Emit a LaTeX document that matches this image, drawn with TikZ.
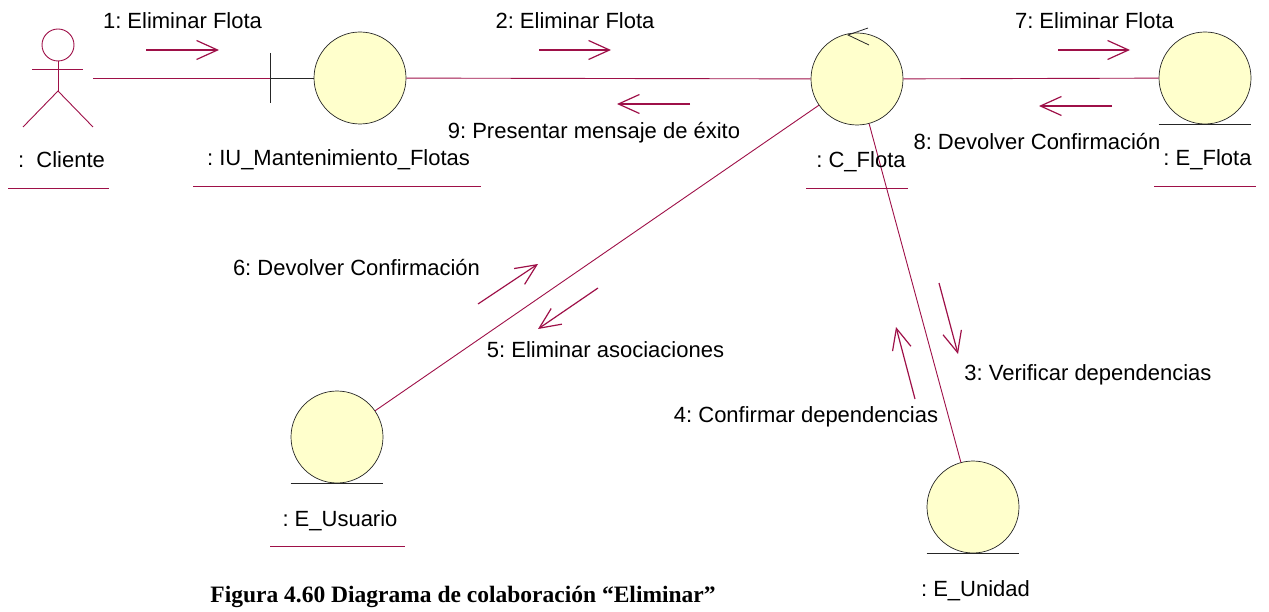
\documentclass[tikz,border=0pt]{standalone}
\usepackage{fontspec}
\setmainfont{Liberation Sans}
\newfontfamily\capfont{Liberation Serif}
\usetikzlibrary{arrows.meta,calc}
\definecolor{rose}{RGB}{158,16,72}
\definecolor{objfill}{RGB}{255,255,204}
\frenchspacing
\begin{document}
\begin{tikzpicture}[x=1pt,y=-1pt,
  obj/.style={circle, draw=black!85, fill=objfill, line width=0.7pt, minimum size=92pt, inner sep=0pt},
  assoc/.style={draw=rose, line width=0.9pt},
  msg/.style={draw=rose, line width=1.2pt, -{Straight Barb[length=21pt,width=19pt]}},
  lbl/.style={font=\fontsize{22}{26}\selectfont, anchor=base, inner sep=0pt},
  uline/.style={draw=rose, line width=1pt},
  eline/.style={draw=black!85, line width=0.8pt},
  actorline/.style={draw=rose, line width=0.9pt}
]
\useasboundingbox (0,0) rectangle (1269,612);

% actor
\node[minimum width=70pt, minimum height=98pt, inner sep=0pt] (cli) at (58,78) {};
\draw[actorline] (58,45) circle[radius=16];
\draw[actorline] (32,69) -- (83,69);
\draw[actorline] (58,61) -- (58,91);
\draw[actorline] (23,127) -- (58,91) -- (93,127);

% objects
\node[obj] (iu) at (360,78) {};
\node[obj] (cf) at (857,79) {};
\node[obj] (ef) at (1205,78) {};
\node[obj] (eus) at (337,437) {};
\node[obj] (eun) at (973,507) {};

% boundary marker
\coordinate (bnd) at (270,78);
\draw[eline] (270,53) -- (270,103);
\draw[eline] (bnd) -- (iu.west);

% control marker
\draw[eline] ($(cf.center)+(11,-51)$) -- ($(cf.center)+(-9,-44)$) -- ($(cf.center)+(12,-34)$);

% entity underlines
\foreach \e in {ef,eus,eun}{
  \draw[eline] (\e.south -| \e.west) -- (\e.south -| \e.east);
}

% associations
\draw[assoc] (cli.east) -- (bnd);
\draw[assoc] (iu) -- (cf);
\draw[assoc] (cf) -- (ef);
\draw[assoc] (cf) -- (eus);
\draw[assoc] (cf) -- (eun);

% object labels
\node[lbl] (lcli) at (61.5,168) {:\ \ Cliente};
\node[lbl] (liu) at (338.5,166) {: IU\_Mantenimiento\_Flotas};
\node[lbl] (lcf) at (861,168) {: C\_Flota};
\node[lbl] (lef) at (1207.5,166) {: E\_Flota};
\node[lbl] (leus) at (340,526) {: E\_Usuario};
\node[lbl] (leun) at (975.5,596) {: E\_Unidad};

% name underlines
\draw[uline] (8,189) -- (109,189);
\draw[uline] (193,187) -- (481,187);
\draw[uline] (806,189) -- (908,189);
\draw[uline] (1154,187) -- (1256,187);
\draw[uline] (270,546) -- (405,546);

% message arrows
\coordinate (m1a) at (146,50);  \coordinate (m1b) at (219,50);
\coordinate (m2a) at (539,50);  \coordinate (m2b) at (611,50);
\coordinate (m9a) at (690,104); \coordinate (m9b) at (617,104);
\coordinate (m7a) at (1058,50); \coordinate (m7b) at (1130,50);
\coordinate (m8a) at (1112,106);\coordinate (m8b) at (1039,106);
\coordinate (m6a) at (478,304); \coordinate (m6b) at (538,264);
\coordinate (m5a) at (598,288); \coordinate (m5b) at (538,329);
\coordinate (m3a) at (939,283); \coordinate (m3b) at (958,354);
\coordinate (m4a) at (915,399); \coordinate (m4b) at (896,327);
\foreach \m in {1,2,9,7,8,6,5,3,4}{
  \draw[msg] (m\m a) -- (m\m b);
}

% message labels
\node[lbl] (t1) at (182.5,29) {1: Eliminar Flota};
\node[lbl] (t2) at (575,29) {2: Eliminar Flota};
\node[lbl] (t7) at (1094.5,29) {7: Eliminar Flota};
\node[lbl] (t9) at (594,139) {9: Presentar mensaje de éxito};
\node[lbl] (t8) at (1037,150) {8: Devolver Confirmación};
\node[lbl] (t6) at (356.5,276) {6: Devolver Confirmación};
\node[lbl] (t5) at (605.5,357) {5: Eliminar asociaciones};
\node[lbl] (t3) at (1088,380) {3: Verificar dependencias};
\node[lbl] (t4) at (806,422) {4: Confirmar dependencias};

% caption
\node[anchor=base, inner sep=0pt, font=\capfont\bfseries\fontsize{23.5}{28}\selectfont] (cap) at (463,602) {Figura 4.60 Diagrama de colaboración “Eliminar”};
\end{tikzpicture}
\end{document}
